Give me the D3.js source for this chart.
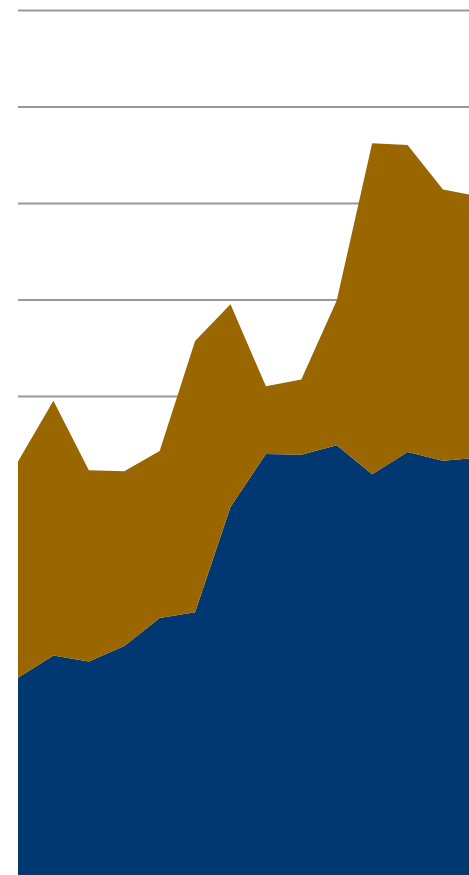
<!DOCTYPE html>
<html>
<head>
<meta charset="utf-8">
<script src="https://cdn.jsdelivr.net/npm/d3@7"></script>
<style>
  html, body { margin: 0; padding: 0; background: #fff; overflow: hidden; }
  svg { display: block; }
</style>
</head>
<body>
<svg id="chart" width="469" height="875"></svg>
<script>
// Period index for each observation
const periods = [0, 1, 2, 3, 4, 5, 6, 7, 8, 9, 10, 11, 12, 13];
// Lower series (blue)
const seriesA = [20.8, 23.1, 22.5, 24.1, 27.0, 27.6, 38.5, 44.0, 43.9, 44.9, 41.9, 44.2, 43.3, 43.6];
// Upper series (gold), stacked on top of seriesA
const seriesB = [22.4, 26.4, 19.8, 18.1, 17.3, 28.1, 21.0, 7.0, 7.8, 15.0, 34.3, 31.8, 28.1, 27.1];
// Gridline values
const gridValues = [0, 10, 20, 30, 40, 50, 60, 70, 80, 90];

const colors = { a: "#023872", b: "#996600" };

const svg = d3.select("#chart");
const left = 18, step = 35.415;

const x = d3.scaleLinear()
  .domain([0, periods.length - 1])
  .range([left, left + step * (periods.length - 1)]);

const y = d3.scaleLinear()
  .domain([0, 90])
  .range([878.5, 10]);

const rows = periods.map((p, i) => ({ p, a: seriesA[i], b: seriesB[i] }));
const stacked = d3.stack().keys(["a", "b"])(rows);

// Horizontal gridlines
const grid = svg.append("g")
  .attr("transform", `translate(${left},0)`)
  .call(d3.axisLeft(y).tickValues(gridValues).tickSize(-(469 - left)).tickFormat(""));
grid.select(".domain").remove();
grid.selectAll(".tick line")
  .attr("stroke", "#989898")
  .attr("stroke-width", 2);

// Stacked areas
const area = d3.area()
  .x(d => x(d.data.p))
  .y0(d => y(d[0]))
  .y1(d => y(d[1]));

svg.append("g")
  .selectAll("path")
  .data(stacked)
  .join("path")
  .attr("fill", d => colors[d.key])
  .attr("d", area);
</script>
</body>
</html>
